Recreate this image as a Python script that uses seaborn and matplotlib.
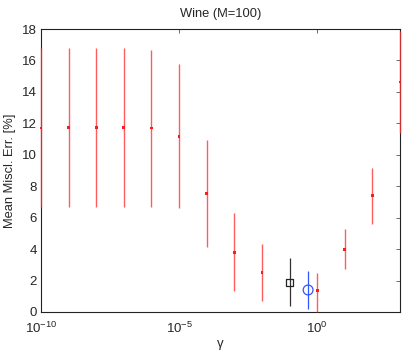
import numpy as np
import pandas as pd
import matplotlib
matplotlib.use("Agg")
import matplotlib.pyplot as plt
import seaborn as sns

# Data
gamma = [1e-10, 1e-9, 1e-8, 1e-7, 1e-6, 1e-5, 1e-4, 1e-3, 1e-2, 1e0, 1e1, 1e2, 1e3]
err_mean = [11.7, 11.75, 11.75, 11.75, 11.7, 11.15, 7.55, 3.8, 2.5, 1.38, 4.0, 7.42, 14.63]
err_low = [6.7, 6.7, 6.7, 6.7, 6.7, 6.6, 4.15, 1.35, 0.72, 0.0, 2.75, 5.6, 11.4]
err_high = [16.77, 16.77, 16.77, 16.77, 16.69, 15.78, 10.97, 6.27, 4.3, 2.5, 5.27, 9.16, 17.9]

sq_gamma = [1e-1]
sq_mean = [1.9]
sq_low = [0.38]
sq_high = [3.42]

circ_gamma = [0.47]
circ_mean = [1.4]
circ_low = [0.2]
circ_high = [2.6]

sns.set_style("white")
plt.rcParams['font.family'] = ['Liberation Sans', 'DejaVu Sans']
plt.rcParams['mathtext.fontset'] = 'custom'
plt.rcParams['mathtext.rm'] = 'Liberation Sans'
plt.rcParams['mathtext.it'] = 'Liberation Sans:italic'

fig = plt.figure(figsize=(4.07, 3.51), dpi=100)
ax = fig.add_axes([41/407, 39/351, 359/407, 283/351])

df = pd.DataFrame({"gamma": gamma, "mean": err_mean, "low": err_low, "high": err_high})
ax.vlines(df["gamma"], df["low"], df["high"], colors="#ff3535", linewidth=1.0, alpha=0.8,
          zorder=4, clip_on=False)
sns.scatterplot(data=df, x="gamma", y="mean", ax=ax, marker="s", s=4, color="#ff1a1a",
                edgecolor="none", zorder=5, legend=False, clip_on=False)

ax.vlines(sq_gamma, sq_low, sq_high, colors="#333333", linewidth=0.9, zorder=2)
sns.scatterplot(x=sq_gamma, y=sq_mean, ax=ax, marker="s", s=26, facecolor="none",
                edgecolor="#222222", linewidth=0.9, zorder=3, legend=False)

ax.vlines(circ_gamma, circ_low, circ_high, colors="#3355ff", linewidth=0.9, zorder=2)
sns.scatterplot(x=circ_gamma, y=circ_mean, ax=ax, marker="o", s=50, facecolor="none",
                edgecolor="#3355ff", linewidth=0.9, zorder=3, legend=False)

ax.set_xscale("log")
ax.set_xlim(1e-10, 1e3)
ax.set_ylim(0, 18)
ax.set_xticks([1e-10, 1e-5, 1e0])
ax.set_xticklabels([r"$10^{-10}$", r"$10^{-5}$", r"$10^{0}$"])
ax.xaxis.set_minor_locator(matplotlib.ticker.NullLocator())
ax.set_yticks(range(0, 19, 2))
ax.tick_params(axis="both", which="major", direction="in", length=3, width=0.6,
               top=True, right=True, labelsize=9.5, color="#555555")
ax.tick_params(axis="x", pad=6)
ax.tick_params(axis="y", pad=3)
for sp in ax.spines.values():
    sp.set_color("#222222")
    sp.set_linewidth(0.8)
    sp.set_zorder(3)

ax.set_title("Wine (M=100)", fontsize=9.3, pad=9)
ax.set_ylabel("Mean Miscl. Err. [%]", fontsize=9.3, labelpad=4)
ax.set_xlabel("γ", fontsize=9.5, labelpad=2)

fig.savefig("out.png", dpi=100)
